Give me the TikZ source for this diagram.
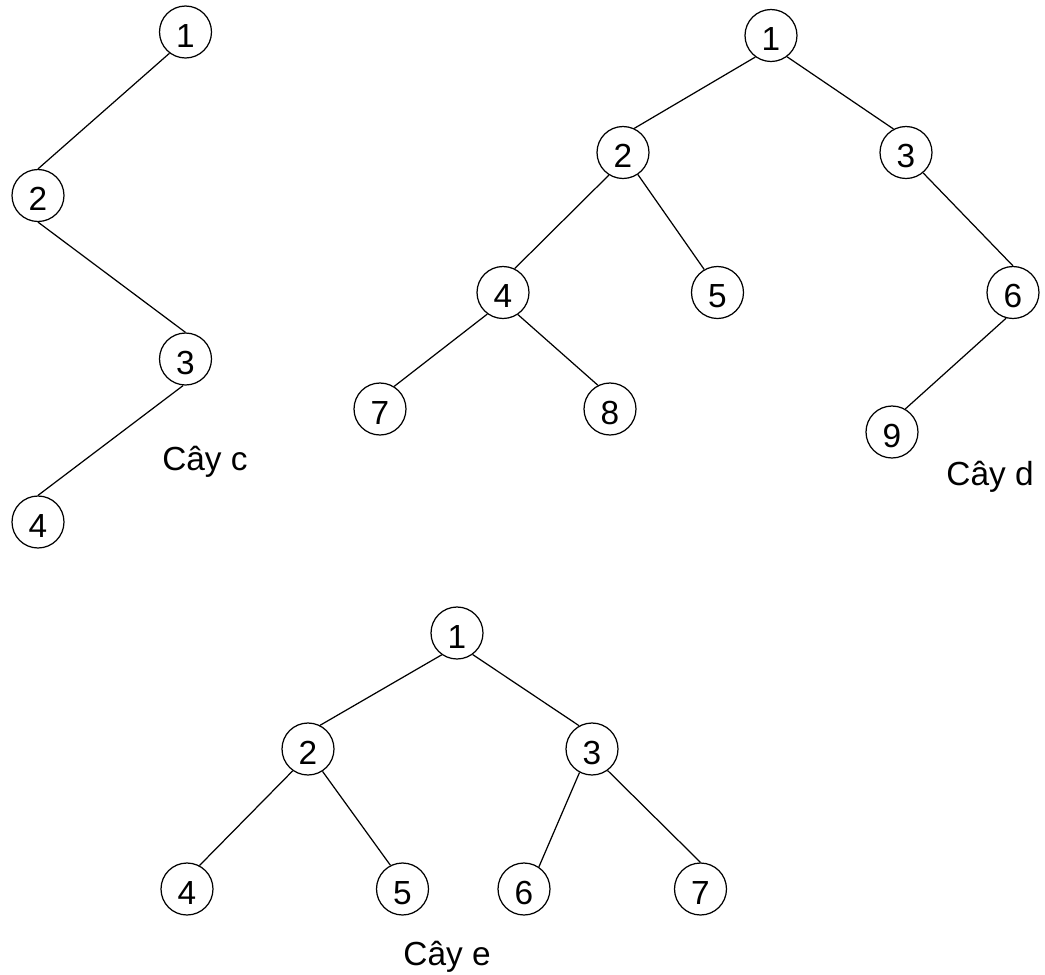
\documentclass[tikz,border=0pt]{standalone}
\usepackage{fontspec}
\setmainfont{Liberation Sans}
\usepackage{tikz}

\tikzset{
  vertex/.style={draw, circle, line width=0.7pt, minimum size=1.04cm, inner sep=0pt,
    font=\fontsize{19}{22}\selectfont, text height=17.5pt, text depth=0pt},
  branch/.style={line width=0.7pt},
  treelabel/.style={anchor=base, font=\fontsize{19}{22}\selectfont}
}

\begin{document}
\begin{tikzpicture}[x=0.02cm, y=-0.02cm]
\useasboundingbox (0,0) rectangle (1045,974);

% LAYER 1: Cay c
\node[vertex] (c1) at (185.5, 32) {1};
\node[vertex] (c2) at (38, 195.5) {2};
\node[vertex] (c3) at (185.5, 359) {3};
\node[vertex] (c4) at (38, 522) {4};
\draw[branch] (c1.233) -- (c2.north);
\draw[branch] (c2.south) -- (c3.north);
\draw[branch] (c3.265) -- (c4.north);
\node[treelabel] (labc) at (205, 470) {Cây c};

% LAYER 2: Cay d
\node[vertex] (d1) at (771, 35.5) {1};
\node[vertex] (d2) at (623, 152.5) {2};
\node[vertex] (d3) at (906, 152.5) {3};
\node[vertex] (d4) at (503, 292.5) {4};
\node[vertex] (d5) at (717.5, 292.5) {5};
\node[vertex] (d6) at (1013, 292.5) {6};
\node[vertex] (d7) at (380, 409) {7};
\node[vertex] (d8) at (610, 409) {8};
\node[vertex] (d9) at (892, 432) {9};
\draw[branch] (d1.234) -- (d2.65);
\draw[branch] (d1.307) -- (d3.118);
\draw[branch] (d2.238) -- (d4.64);
\draw[branch] (d2.304) -- (d5.120);
\draw[branch] (d3.310) -- (d6.north);
\draw[branch] (d4.234) -- (d7.58);
\draw[branch] (d4.304) -- (d8.117);
\draw[branch] (d6.255) -- (d9.60);
\node[treelabel] (labd) at (990, 485) {Cây d};

% LAYER 3: Cay e
\node[vertex] (e1) at (457, 633) {1};
\node[vertex] (e2) at (308, 749) {2};
\node[vertex] (e3) at (592, 749) {3};
\node[vertex] (e4) at (187, 889) {4};
\node[vertex] (e5) at (402.5, 889) {5};
\node[vertex] (e6) at (524, 889) {6};
\node[vertex] (e7) at (700.5, 889) {7};
\draw[branch] (e1.235) -- (e2.63);
\draw[branch] (e1.306) -- (e3.119);
\draw[branch] (e2.235) -- (e4.62);
\draw[branch] (e2.303) -- (e5.117);
\draw[branch] (e3.242) -- (e6.56);
\draw[branch] (e3.306) -- (e7.north);
\node[treelabel] (labe) at (447, 965) {Cây e};
\end{tikzpicture}
\end{document}
